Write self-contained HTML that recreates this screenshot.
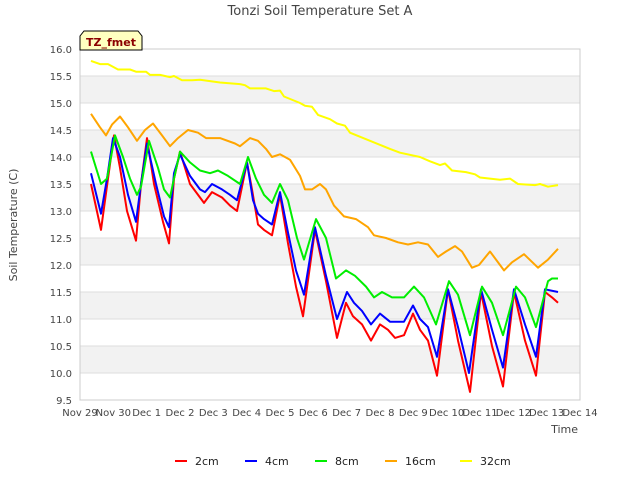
<!DOCTYPE html>
<html><head><meta charset="utf-8"><style>
body{margin:0;background:#fff;font-family:"Liberation Sans","DejaVu Sans",sans-serif}
svg text{font-family:"DejaVu Sans","Liberation Sans",sans-serif}
</style></head><body>
<svg id="chart" width="640" height="480" viewBox="0 0 640 480" xmlns="http://www.w3.org/2000/svg">
<text x="320" y="15" text-anchor="middle" font-size="13" fill="#444">Tonzi Soil Temperature Set A</text>
<g id="grid"></g>
<g id="lines"></g>
<g id="axes"></g>
<text transform="translate(17,225) rotate(-90)" text-anchor="middle" font-size="11" fill="#444">Soil Temperature (C)</text>
<text x="578" y="433" text-anchor="end" font-size="11" fill="#444">Time</text>
<g>
<path d="M80,50 L80,36 L84,31 L138,31 L142,36 L142,50 Z" fill="#ffffc0" stroke="#000" stroke-width="1"/>
<text x="111" y="46" text-anchor="middle" font-size="11" font-weight="bold" fill="#8b0000">TZ_fmet</text>
</g>
<g id="legend"></g>
</svg>
<script>
const yTicks=[9.5,10.0,10.5,11.0,11.5,12.0,12.5,13.0,13.5,14.0,14.5,15.0,15.5,16.0];
const xTickLabels=["Nov 29","Nov 30","Dec 1","Dec 2","Dec 3","Dec 4","Dec 5","Dec 6","Dec 7","Dec 8","Dec 9","Dec 10","Dec 11","Dec 12","Dec 13","Dec 14"];
const seriesNames=["2cm","4cm","8cm","16cm","32cm"];
const seriesColors=["#ff0000","#0000ff","#00ee00","#ffa500","#ffff00"];
const t2=[0.33,0.63,0.84,1.02,1.2,1.41,1.68,1.83,2.01,2.22,2.49,2.67,2.82,3.0,3.3,3.6,3.72,3.96,4.26,4.5,4.71,5.01,5.16,5.34,5.52,5.76,6.0,6.24,6.48,6.69,7.05,7.38,7.71,7.98,8.19,8.46,8.73,9.0,9.24,9.45,9.72,9.99,10.2,10.44,10.71,11.04,11.34,11.7,12.03,12.36,12.69,13.02,13.35,13.68,13.95,14.16,14.34];
const v2=[13.5,12.65,13.6,14.4,13.8,13.0,12.45,13.5,14.35,13.5,12.8,12.4,13.6,14.1,13.5,13.25,13.15,13.35,13.25,13.1,13.0,13.9,13.4,12.75,12.65,12.55,13.3,12.4,11.6,11.05,12.65,11.7,10.65,11.3,11.05,10.9,10.6,10.9,10.8,10.65,10.7,11.1,10.8,10.6,9.95,11.55,10.6,9.65,11.5,10.5,9.75,11.5,10.6,9.95,11.5,11.4,11.3];
const t4=[0.33,0.63,0.81,0.99,1.2,1.44,1.68,1.83,2.01,2.28,2.52,2.67,2.82,3.0,3.3,3.6,3.75,3.96,4.26,4.5,4.71,5.01,5.19,5.34,5.52,5.76,6.0,6.24,6.48,6.72,7.05,7.38,7.71,8.01,8.22,8.46,8.73,9.0,9.3,9.72,9.99,10.2,10.44,10.71,11.04,11.34,11.67,12.03,12.36,12.69,13.02,13.35,13.68,13.95,14.34];
const v4=[13.7,12.95,13.6,14.35,14.0,13.3,12.8,13.5,14.25,13.5,12.9,12.7,13.7,14.05,13.65,13.4,13.35,13.5,13.4,13.3,13.2,13.9,13.2,12.95,12.85,12.75,13.35,12.6,11.9,11.45,12.7,11.8,11.0,11.5,11.3,11.15,10.9,11.1,10.95,10.95,11.25,11.0,10.85,10.3,11.55,10.85,10.0,11.55,10.8,10.1,11.55,10.9,10.3,11.55,11.5];
const t8=[0.33,0.63,0.81,1.05,1.29,1.5,1.71,1.83,2.07,2.34,2.52,2.7,2.82,3.0,3.3,3.6,3.9,4.14,4.44,4.8,5.04,5.28,5.52,5.76,6.0,6.24,6.51,6.72,7.08,7.38,7.68,7.98,8.25,8.58,8.82,9.06,9.36,9.72,10.02,10.32,10.68,11.07,11.34,11.7,12.06,12.36,12.69,13.08,13.35,13.68,14.04,14.16,14.34];
const v8=[14.1,13.5,13.6,14.4,14.0,13.6,13.3,13.45,14.3,13.8,13.4,13.25,13.6,14.1,13.9,13.75,13.7,13.75,13.65,13.5,14.0,13.6,13.3,13.15,13.5,13.2,12.5,12.1,12.85,12.5,11.75,11.9,11.8,11.6,11.4,11.5,11.4,11.4,11.6,11.4,10.9,11.7,11.45,10.7,11.6,11.3,10.7,11.6,11.4,10.85,11.7,11.75,11.75];
const t16=[0.33,0.6,0.78,0.96,1.2,1.44,1.71,1.95,2.19,2.46,2.7,2.94,3.24,3.54,3.78,4.2,4.65,4.8,5.1,5.34,5.58,5.76,6.0,6.3,6.6,6.75,6.96,7.2,7.38,7.62,7.92,8.28,8.64,8.82,9.18,9.54,9.84,10.14,10.44,10.74,10.98,11.25,11.46,11.76,11.97,12.3,12.72,12.96,13.32,13.74,14.04,14.34];
const v16=[14.8,14.55,14.4,14.6,14.75,14.55,14.3,14.5,14.62,14.4,14.2,14.35,14.5,14.45,14.35,14.35,14.25,14.2,14.35,14.3,14.15,14.0,14.05,13.95,13.65,13.4,13.4,13.5,13.4,13.1,12.9,12.85,12.7,12.55,12.5,12.42,12.38,12.42,12.38,12.15,12.25,12.35,12.25,11.95,12.0,12.25,11.9,12.05,12.2,11.95,12.1,12.3];
const t32=[0.33,0.6,0.84,0.96,1.14,1.5,1.68,1.98,2.1,2.4,2.7,2.82,3.06,3.36,3.6,4.2,4.8,4.95,5.1,5.58,5.82,6.0,6.12,6.6,6.75,6.96,7.14,7.5,7.71,7.95,8.1,8.7,9.3,9.6,10.2,10.5,10.8,10.95,11.16,11.58,11.85,12.0,12.6,12.9,13.14,13.65,13.8,14.04,14.34];
const v32=[15.78,15.72,15.72,15.68,15.62,15.62,15.58,15.58,15.52,15.52,15.48,15.5,15.42,15.42,15.43,15.38,15.35,15.33,15.27,15.27,15.22,15.23,15.12,15.0,14.95,14.93,14.78,14.7,14.62,14.58,14.45,14.3,14.15,14.08,14.0,13.92,13.85,13.88,13.75,13.72,13.68,13.62,13.58,13.6,13.5,13.48,13.5,13.45,13.48];
const seriesT=[t2,t4,t8,t16,t32];
const seriesV=[v2,v4,v8,v16,v32];

const X0=80,X1=580,Y0=400,Y1=49;
const xS=d=>X0+(X1-X0)*d/15;
const yS=v=>Y0-(Y0-Y1)*(v-9.5)/6.5;
const NS="http://www.w3.org/2000/svg";
function mk(tag,attrs,parent){const e=document.createElementNS(NS,tag);for(const k in attrs)e.setAttribute(k,attrs[k]);parent.appendChild(e);return e;}
const grid=document.getElementById('grid'),axes=document.getElementById('axes'),lines=document.getElementById('lines'),legend=document.getElementById('legend');
for(let i=0;i<yTicks.length-1;i++){
  if(i%2===1){const r=mk('rect',{x:X0,y:yS(yTicks[i+1]),width:X1-X0,height:yS(yTicks[i])-yS(yTicks[i+1]),fill:'#f2f2f2'},grid);
  
  }
}
yTicks.forEach(v=>{
  const l=mk('line',{x1:X0,x2:X1,y1:yS(v),y2:yS(v),stroke:'#ddd','stroke-width':1},grid);
  
  
  const t=mk('text',{x:X0-8,y:yS(v)+4,'text-anchor':'end','font-size':10,fill:'#444'},axes);
  
  
  t.textContent=v.toFixed(1);
});
const fr=mk('rect',{x:X0,y:Y1,width:X1-X0,height:Y0-Y1,fill:'none',stroke:'#ccc'},axes);


xTickLabels.forEach((s,i)=>{
  const t=mk('text',{x:xS(i),y:416,'text-anchor':'middle','font-size':10,fill:'#444'},axes);
  
  
  t.textContent=s;
});
seriesV.forEach((vals,si)=>{
  const pts=vals.map((v,i)=>xS(seriesT[si][i]).toFixed(1)+','+yS(v).toFixed(1)).join(' ');
  const p=mk('polyline',{points:pts,fill:'none',stroke:seriesColors[si],'stroke-width':2,'stroke-linejoin':'round'},lines);
  
  
});
const lx=[175,245,315,385,460];
seriesNames.forEach((n,i)=>{
  const g=mk('g',{},legend);
  
  
  mk('line',{x1:lx[i],x2:lx[i]+12,y1:461,y2:461,stroke:seriesColors[i],'stroke-width':2},g);
  const t=mk('text',{x:lx[i]+20,y:465,'font-size':11,fill:'#222'},g);
  t.textContent=n;
});
</script>
</body></html>
